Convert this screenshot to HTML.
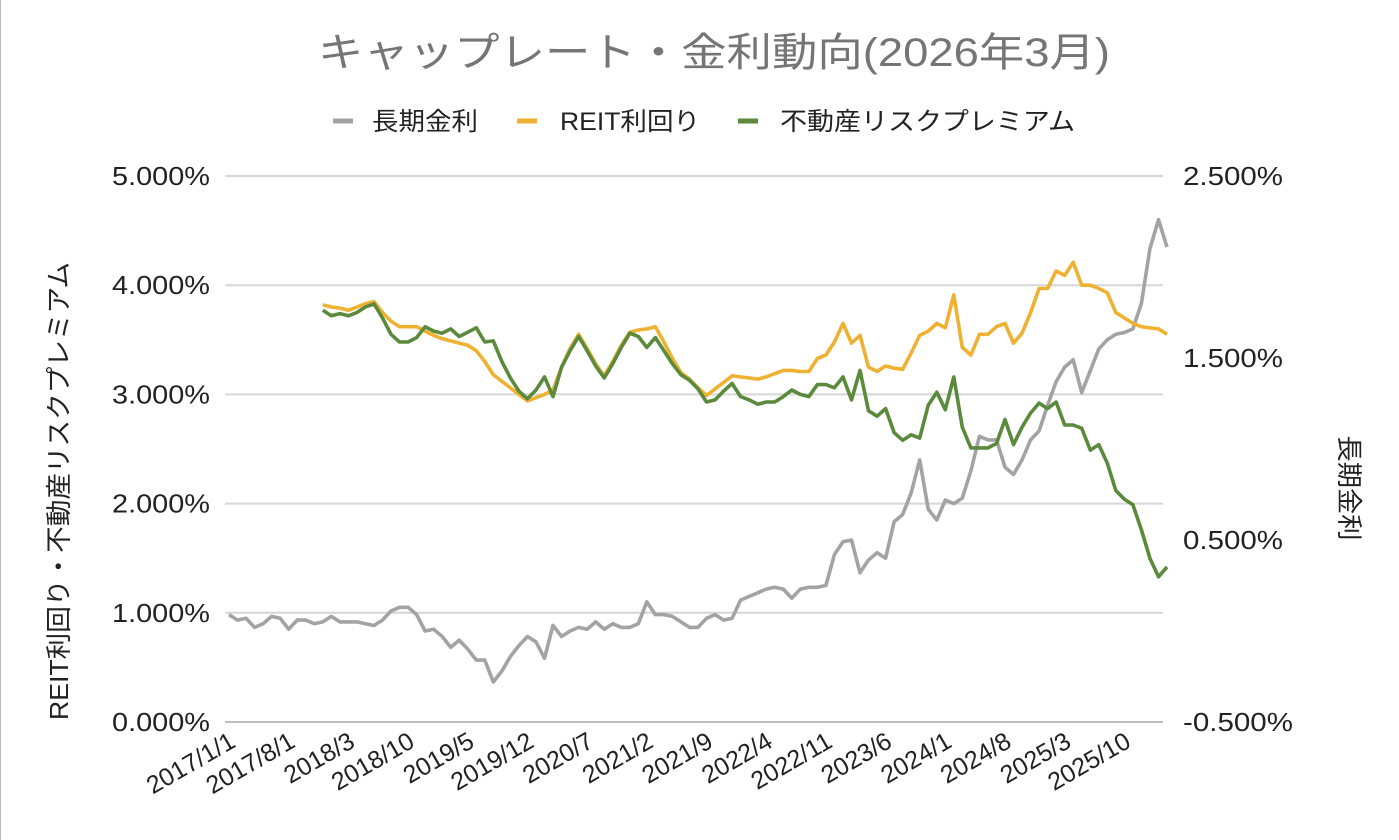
<!DOCTYPE html>
<html><head><meta charset="utf-8"><style>
body{margin:0;background:#fff;}
svg{display:block;font-family:"Liberation Sans","Noto Sans CJK JP",sans-serif;}
</style></head><body>
<svg id="chart" width="1399" height="840">
<rect x="0" y="0" width="1399" height="840" fill="#fff"/>
<line x1="0.5" y1="0" x2="0.5" y2="840" stroke="#bbb" stroke-width="1"/>
<text x="318" y="66" font-size="40" fill="#757575" textLength="792" lengthAdjust="spacingAndGlyphs">キャップレート・金利動向(2026年3月)</text>
<g>
<g><line x1="333" y1="121" x2="353" y2="121" stroke="#a3a3a3" stroke-width="5"/><text x="372" y="130" font-size="25" fill="#222" textLength="106" lengthAdjust="spacingAndGlyphs">長期金利</text></g>
<g><line x1="517" y1="121" x2="537" y2="121" stroke="#efb132" stroke-width="5"/><text x="560" y="130" font-size="25" fill="#222" textLength="140" lengthAdjust="spacingAndGlyphs">REIT利回り</text></g>
<g><line x1="738" y1="121" x2="758" y2="121" stroke="#5b8a3c" stroke-width="5"/><text x="780" y="130" font-size="25" fill="#222" textLength="295" lengthAdjust="spacingAndGlyphs">不動産リスクプレミアム</text></g>
</g>
<g id="grid"></g><g id="ticks"></g><g id="series"></g>
<text transform="translate(68,491) rotate(-90)" text-anchor="middle" font-size="26" fill="#222" textLength="458" lengthAdjust="spacingAndGlyphs">REIT利回り・不動産リスクプレミアム</text>
<text transform="translate(1340,488) rotate(90)" text-anchor="middle" font-size="26" fill="#222" textLength="105" lengthAdjust="spacingAndGlyphs">長期金利</text>
</svg>
<script>
const leftTicks=[0,1,2,3,4,5];
const rightTicks=[-0.5,0.5,1.5,2.5];
const xLabels=["2017/1/1","2017/8/1","2018/3","2018/10","2019/5","2019/12","2020/7","2021/2","2021/9","2022/4","2022/11","2023/6","2024/1","2024/8","2025/3","2025/10"];
const xLabelIdx=[0,7,14,21,28,35,42,49,56,63,70,77,84,91,98,105];
const longRate=[0.09,0.06,0.07,0.02,0.04,0.08,0.07,0.01,0.06,0.06,0.04,0.05,
0.08,0.05,0.05,0.05,0.04,0.03,0.06,0.11,0.13,0.13,0.09,0.00,
0.01,-0.03,-0.09,-0.05,-0.10,-0.16,-0.16,-0.28,-0.22,-0.14,-0.08,-0.03,
-0.06,-0.15,0.03,-0.03,0.00,0.02,0.01,0.05,0.01,0.04,0.02,0.02,
0.04,0.16,0.09,0.09,0.08,0.05,0.02,0.02,0.07,0.09,0.06,0.07,
0.17,0.19,0.21,0.23,0.24,0.23,0.18,0.23,0.24,0.24,0.25,0.42,
0.49,0.50,0.32,0.39,0.43,0.40,0.60,0.64,0.76,0.94,0.67,0.61,
0.72,0.70,0.73,0.88,1.07,1.05,1.05,0.90,0.86,0.94,1.05,1.10,
1.24,1.37,1.45,1.49,1.31,1.43,1.55,1.60,1.63,1.64,1.66,1.80,
2.10,2.26,2.11];
const reitStart=11;
const reitYield=[3.82,3.80,3.79,3.77,3.80,3.83,3.85,3.75,3.67,3.62,3.62,3.62,3.58,3.54,3.51,3.49,3.47,3.45,3.40,3.30,3.18,3.12,3.06,3.00,2.94,
2.97,3.00,3.04,3.25,3.42,3.55,3.42,3.28,3.17,3.30,3.45,3.57,3.59,3.60,3.62,3.48,3.33,3.20,3.14,3.06,2.99,3.05,3.11,3.17,3.16,3.15,3.14,3.16,3.19,3.22,3.22,3.21,3.21,3.33,3.36,3.48,3.65,3.47,3.54,3.25,3.21,3.26,3.24,3.23,3.38,3.54,3.58,3.65,3.61,3.91,3.43,3.36,3.55,3.55,3.62,3.65,3.47,3.56,3.75,3.97,3.97,4.13,4.09,4.21,4.00,4.00,3.97,3.93,3.75,3.70,3.65,3.62,3.61,3.60,3.55];
const riskPremium=[3.77,3.72,3.74,3.72,3.75,3.80,3.83,3.70,3.55,3.48,3.48,3.52,3.62,3.58,3.56,3.60,3.53,3.57,3.61,3.48,3.49,3.30,3.15,3.03,2.96,3.04,3.16,2.98,3.25,3.40,3.53,3.40,3.26,3.15,3.28,3.43,3.56,3.53,3.43,3.52,3.40,3.28,3.18,3.13,3.05,2.93,2.95,3.03,3.10,2.98,2.95,2.91,2.93,2.93,2.98,3.04,3.00,2.98,3.09,3.09,3.06,3.16,2.95,3.22,2.85,2.80,2.87,2.65,2.58,2.63,2.60,2.90,3.02,2.86,3.16,2.70,2.51,2.51,2.51,2.55,2.77,2.54,2.70,2.83,2.92,2.87,2.93,2.72,2.72,2.69,2.49,2.54,2.37,2.12,2.04,1.99,1.76,1.50,1.33,1.42];

const NS="http://www.w3.org/2000/svg";
const L=225,R=1163,T=176,B=722;
const x=i=>229+i*(1167-229)/110;
const yL=v=>B-(v/5)*(B-T);
const yR=v=>B-((v+0.5)/3)*(B-T);
function mk(tag,attrs,parent){const e=document.createElementNS(NS,tag);for(const k in attrs)e.setAttribute(k,attrs[k]);parent.appendChild(e);return e;}
const grid=document.getElementById('grid'),ticks=document.getElementById('ticks'),ser=document.getElementById('series');
leftTicks.forEach(v=>{
 const g=mk('line',{x1:L,x2:R,y1:yL(v),y2:yL(v),stroke:v===0?'#bdbdbd':'#d6d6d6','stroke-width':2},grid);
 
 
 const t=mk('text',{x:210,y:yL(v)+9,'text-anchor':'end','font-size':26,fill:'#222',textLength:98,lengthAdjust:'spacingAndGlyphs'},ticks);
 t.textContent=v.toFixed(3)+'%';
 
 
});
rightTicks.forEach(v=>{
 const t=mk('text',{x:1183,y:yR(v)+9,'font-size':26,fill:'#222',textLength:v<0?110:100,lengthAdjust:'spacingAndGlyphs'},ticks);
 t.textContent=v.toFixed(3)+'%';
 
 
});
xLabels.forEach((s,k)=>{
 const px=x(xLabelIdx[k])+8;
 const t=mk('text',{transform:`translate(${px},746) rotate(-30)`,'text-anchor':'end','font-size':25,fill:'#222'},ticks);
 t.textContent=s;
 
 
});
function line(vals,start,yf,color,name){
 const d=vals.map((v,i)=>(i?'L':'M')+x(start+i).toFixed(1)+','+yf(v).toFixed(1)).join('');
 const p=mk('path',{d:d,fill:'none',stroke:color,'stroke-width':3.6,'stroke-linejoin':'round'},ser);
 
 
}
line(longRate,0,yR,'#a3a3a3','long-rate-line');
line(reitYield,reitStart,yL,'#efb132','reit-yield-line');
line(riskPremium,reitStart,yL,'#5b8a3c','risk-premium-line');
</script>
</body></html>
